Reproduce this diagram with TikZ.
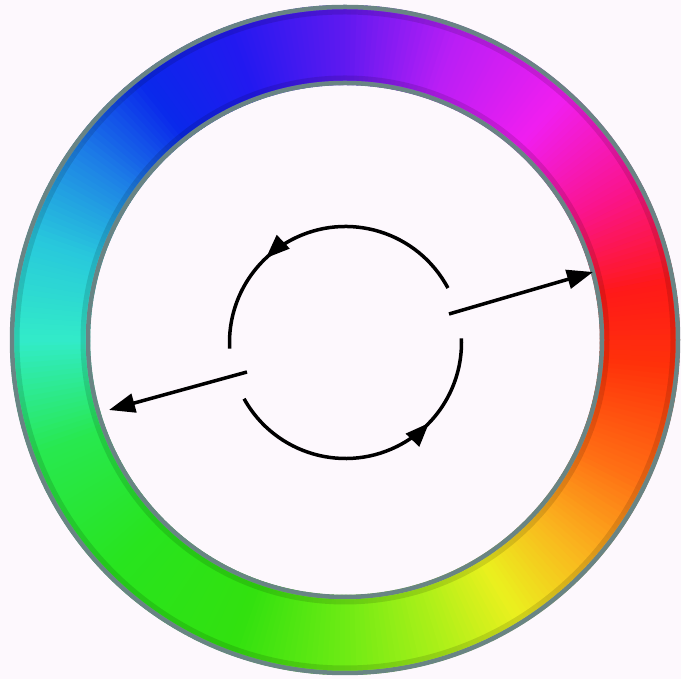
\documentclass[tikz,border=0pt]{standalone}
\usetikzlibrary{arrows.meta,decorations.markings,calc}
\definecolor{bg}{RGB}{253,248,253}
\definecolor{ringedge}{RGB}{105,132,132}
\definecolor{s0}{RGB}{50,235,200}
\definecolor{s1}{RGB}{40,232,80}
\definecolor{s2}{RGB}{40,228,30}
\definecolor{s3}{RGB}{50,225,15}
\definecolor{s4}{RGB}{110,235,20}
\definecolor{s5}{RGB}{175,240,25}
\definecolor{s6}{RGB}{235,240,30}
\definecolor{s7}{RGB}{250,180,30}
\definecolor{s8}{RGB}{255,110,20}
\definecolor{s9}{RGB}{255,50,10}
\definecolor{s10}{RGB}{255,25,25}
\definecolor{s11}{RGB}{250,20,140}
\definecolor{s12}{RGB}{240,30,240}
\definecolor{s13}{RGB}{185,30,245}
\definecolor{s14}{RGB}{95,25,240}
\definecolor{s15}{RGB}{35,25,240}
\definecolor{s16}{RGB}{10,40,235}
\definecolor{s17}{RGB}{30,130,230}
\definecolor{s18}{RGB}{40,200,220}
\begin{document}
\begin{tikzpicture}[x=1pt,y=1pt,
  tip/.style={},
  arrowline/.style={line width=3.5pt,-{Triangle[length=26pt,width=19pt]}},
  arcline/.style={line width=3.5pt},
  midarrow/.style={postaction={decorate},decoration={markings,
     mark=at position #1 with {\arrow{Triangle[length=24pt,width=18pt]}}}},
  rimline/.style={draw=ringedge,line width=4.5pt}]
\fill[bg] (0,0) rectangle (681,679);
\useasboundingbox (0,0) rectangle (681,679);
\coordinate (c) at (345,339);
\coordinate (m) at (345.5,336.5);
% colour ring
\begin{scope}[shift={(345,339)}]
\foreach \a/\b/\ca/\cb in {-180/-160/s0/s1,-160/-135/s1/s2,-135/-110/s2/s3,-110/-90/s3/s4,
  -90/-72/s4/s5,-72/-58/s5/s6,-58/-42/s6/s7,-42/-25/s7/s8,-25/-5/s8/s9,-5/10/s9/s10,
  10/28/s10/s11,28/48/s11/s12,48/70/s12/s13,70/90/s13/s14,90/110/s14/s15,110/128/s15/s16,
  128/145/s16/s17,145/162/s17/s18,162/180/s18/s0}{
  \pgfmathtruncatemacro\n{\b-\a}
  \foreach \i in {1,...,\n}{
    \pgfmathsetmacro\ta{\a+\i-1}
    \pgfmathsetmacro\tb{\a+\i+0.5}
    \pgfmathtruncatemacro\p{100*(\i-0.5)/\n}
    \fill[\cb!\p!\ca] (\ta:335) arc[start angle=\ta,end angle=\tb,radius=335]
      -- (\tb:255) arc[start angle=\tb,end angle=\ta,radius=255] -- cycle;
  }
}
\end{scope}
% shading of the tube
\draw[black,opacity=0.12,line width=5pt] (c) circle[radius=328];
\draw[black,opacity=0.12,line width=5pt] (c) circle[radius=262];
% rims
\draw[rimline] (c) circle[radius=333];
\draw[rimline] (c) circle[radius=257];
% circular arrows
\coordinate (u1) at ($(m)+(28:116)$);
\coordinate (l1) at ($(m)+(209:116)$);
\draw[arcline,midarrow=0.68] (u1) arc[start angle=28,end angle=183,radius=116];
\draw[arcline,midarrow=0.70] (l1) arc[start angle=209,end angle=362,radius=116];
% straight arrows
\coordinate (ra) at (449,365);
\coordinate (rb) at (593,407);
\coordinate (la) at (247,307);
\coordinate (lb) at (109,269);
\draw[arrowline] (ra) -- (rb);
\draw[arrowline] (la) -- (lb);
\end{tikzpicture}
\end{document}
